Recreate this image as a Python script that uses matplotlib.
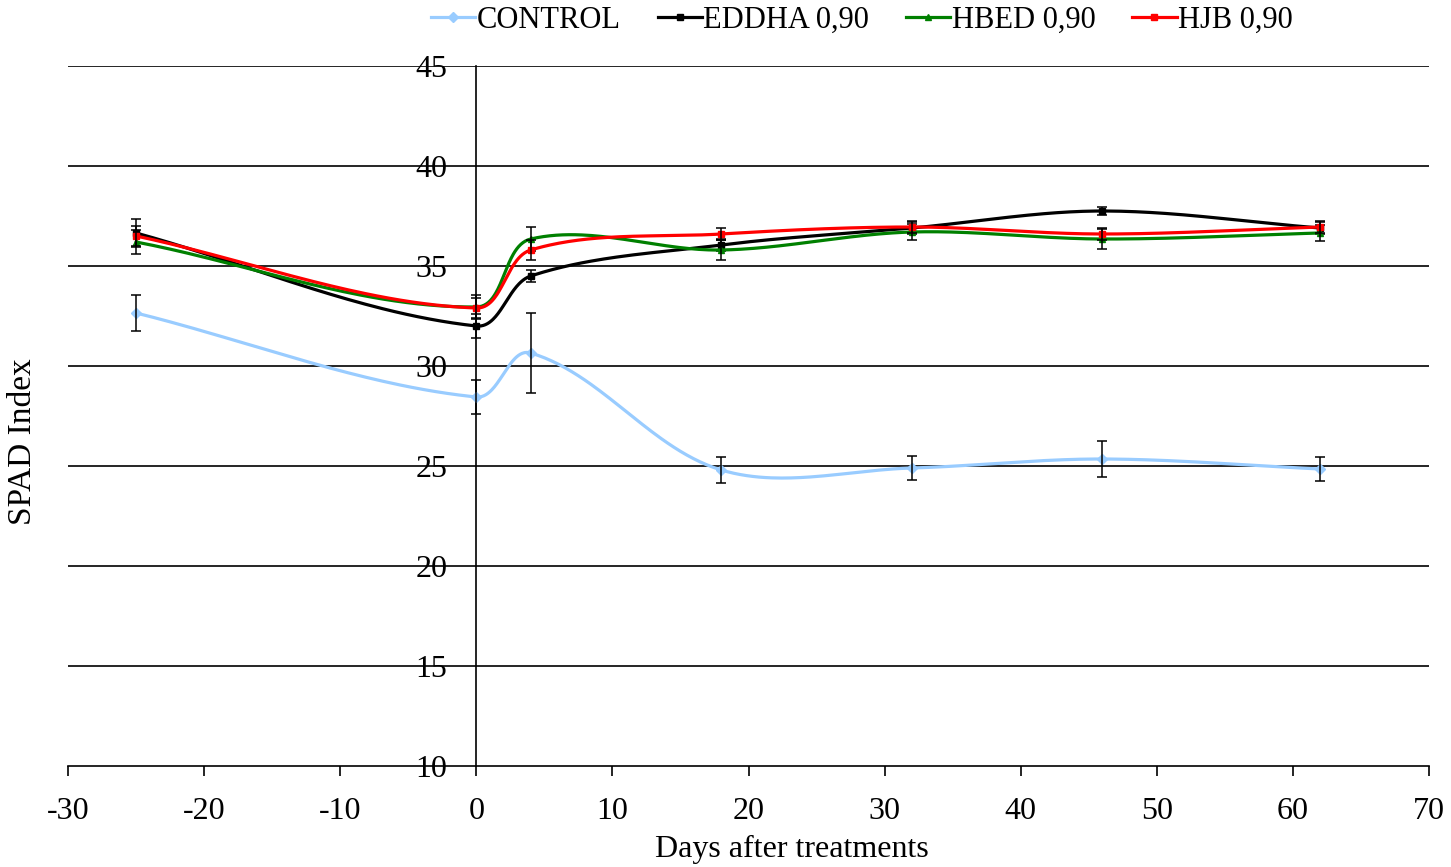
import numpy as np
import matplotlib
matplotlib.use("Agg")
import matplotlib.pyplot as plt
from matplotlib.lines import Line2D

plt.rcParams['font.family'] = ['Liberation Serif', 'DejaVu Serif']
plt.rcParams['axes.unicode_minus'] = False

days = [-25, 0, 4, 18, 32, 46, 62]

control = [32.65, 28.45, 30.65, 24.8, 24.9, 25.35, 24.85]
control_err = [0.9, 0.87, 2.0, 0.67, 0.6, 0.9, 0.6]

eddha = [36.65, 32.0, 34.5, 36.05, 36.9, 37.75, 36.9]
eddha_err = [0.7, 0.6, 0.3, 0.3, 0.3, 0.2, 0.3]

hbed = [36.2, 32.95, 36.35, 35.8, 36.7, 36.35, 36.65]
hbed_err = [0.6, 0.6, 0.6, 0.5, 0.4, 0.5, 0.4]

hjb = [36.5, 32.9, 35.8, 36.6, 36.95, 36.6, 36.95]
hjb_err = [0.5, 0.5, 0.5, 0.3, 0.3, 0.3, 0.3]

series_names = ["CONTROL", "EDDHA 0,90", "HBED 0,90", "HJB 0,90"]
series_colors = ["#99CCFF", "#000000", "#008000", "#FF0000"]
series_markers = ["D", "s", "^", "s"]

# screen scale of one data unit (pixels) used for shaping the curves
X_SCALE = 13.61
Y_SCALE = 20.0


def smooth(x, y, n=60):
    """Bezier smoothing through every point, shaped in screen space."""
    pts = np.column_stack([np.asarray(x, float) * X_SCALE,
                           np.asarray(y, float) * Y_SCALE])
    m = len(pts)
    tang = []
    for i in range(m):
        a = pts[max(i - 1, 0)]
        b = pts[min(i + 1, m - 1)]
        d = b - a
        tang.append(d / np.linalg.norm(d))
    out = []
    for i in range(m - 1):
        p1, p2 = pts[i], pts[i + 1]
        L = np.linalg.norm(p2 - p1) / 3.0
        c1 = p1 + tang[i] * L
        c2 = p2 - tang[i + 1] * L
        t = np.linspace(0, 1, n)[:, None]
        seg = ((1 - t) ** 3) * p1 + 3 * ((1 - t) ** 2) * t * c1 \
            + 3 * (1 - t) * t ** 2 * c2 + t ** 3 * p2
        out.append(seg if i == 0 else seg[1:])
    s = np.vstack(out)
    return s[:, 0] / X_SCALE, s[:, 1] / Y_SCALE


fig = plt.figure(figsize=(14.51, 8.67), dpi=100)
ax = fig.add_axes([68 / 1451, 1 - 766 / 867, (1429 - 68) / 1451, (766 - 66) / 867])

ax.set_xlim(-30, 70)
ax.set_ylim(10, 45)

for yv in range(15, 50, 5):
    ax.axhline(yv, color="black", lw=1.2, zorder=1)

data = [(control, control_err), (eddha, eddha_err), (hbed, hbed_err), (hjb, hjb_err)]
for k, ((vals, errs), color, mk) in enumerate(zip(data, series_colors, series_markers)):
    sx, sy = smooth(days, vals)
    ax.plot(sx, sy, color=color, lw=2.3, zorder=3 + k, solid_capstyle="round")
    ax.plot(days, vals, linestyle="none", marker=mk, ms=5, color=color, zorder=3 + k)
    ax.errorbar(days, vals, yerr=errs, fmt="none", ecolor="black", elinewidth=1.1,
                capsize=3.3, capthick=1.1, zorder=3 + k)

ax.spines["left"].set_position(("data", 0))
ax.spines["right"].set_visible(False)
ax.spines["top"].set_visible(False)
ax.spines["left"].set_linewidth(1.2)
ax.spines["bottom"].set_linewidth(1.2)

ax.set_xticks(range(-30, 80, 10))
ax.set_yticks(range(10, 50, 5))
ax.tick_params(axis="x", direction="out", length=7, width=1.2, labelsize=23, pad=15)
ax.tick_params(axis="y", direction="out", length=0, width=1.2, labelsize=23, pad=21)
for lab in ax.get_yticklabels():
    lab.set_zorder(10)

fig.text(792 / 1451, 1 - 849 / 867, "Days after treatments", ha="center", va="center", fontsize=23)
fig.text(23 / 1451, 1 - 442 / 867, "SPAD Index", ha="center", va="center", rotation=90, fontsize=24)

handles = [Line2D([0], [0], color=c, lw=2.3, marker=m, ms=5)
           for c, m in zip(series_colors, series_markers)]
fig.legend(handles, series_names, loc="center", bbox_to_anchor=(862 / 1451, 1 - 20 / 867),
           ncol=4, frameon=False, fontsize=22, handlelength=1.45, handletextpad=0.05,
           columnspacing=1.2)

fig.savefig("out.png", dpi=100)
